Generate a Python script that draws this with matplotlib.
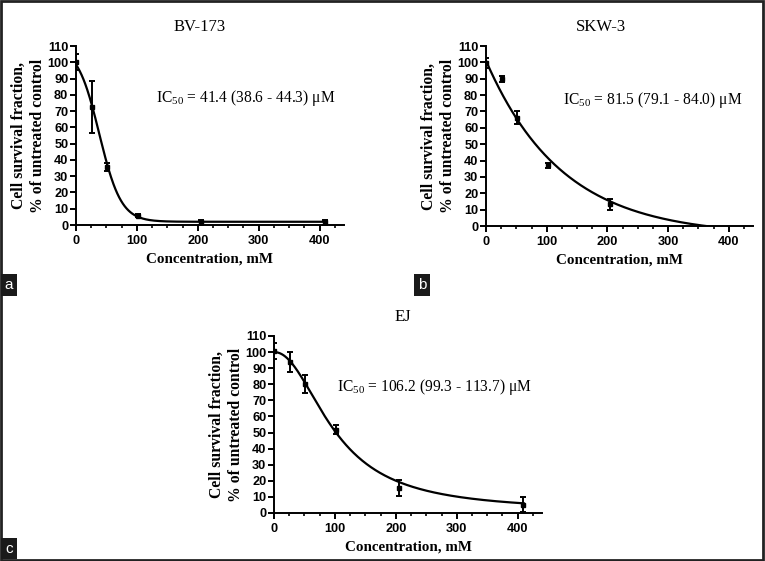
import numpy as np
import matplotlib
matplotlib.use('Agg')
import matplotlib.pyplot as plt
from matplotlib.ticker import MultipleLocator
from matplotlib.patches import Rectangle

plt.rcParams['mathtext.fontset'] = 'custom'
plt.rcParams['mathtext.rm'] = 'Liberation Serif'
plt.rcParams['mathtext.it'] = 'Liberation Serif:italic'

SERIF = 'Liberation Serif'
SANS = 'Liberation Sans'

#doses (same for the three cell lines)
conc = [0, 25.6, 51.2, 102.4, 204.8, 409.6]

#BV-173
bv_mean = [100, 72.7, 35.8, 5.7, 1.6, 1.6]
bv_err = [5, 16, 2.5, 1, 1.3, 1.3]
#SKW-3 (no point visible at 409.6)
skw_conc = [0, 25.6, 51.2, 102.4, 204.8]
skw_mean = [99.8, 89.8, 66.3, 37.1, 13.3]
skw_err = [3, 2, 3.7, 1.5, 3.4]
#EJ
ej_mean = [100.5, 93.9, 80.1, 51.6, 15.5, 5.2]
ej_err = [5, 6, 5.5, 2.8, 4.7, 4.5]

titles = ['BV-173', 'SKW-3', 'EJ']
ic50_texts = ['IC$_{50}$ = 41.4 (38.6 - 44.3) \u03bcM',
              'IC$_{50}$ = 81.5 (79.1 - 84.0) \u03bcM',
              'IC$_{50}$ = 106.2 (99.3 - 113.7) \u03bcM']

#fitted curves, parameters
def fit_bv(x):
    #sigmoid: top, bottom, mid, slope
    return 2 + (110 - 2) / (1 + np.exp((x - 38.3) / 17.9))

def fit_skw(x):
    #one phase decay: plateau, span, k
    return -6 + 107 * np.exp(-0.00795 * x)

def fit_ej(x):
    #hill: top, bottom, ec50, hill slope
    return 1 + (100 - 1) / (1 + (x / 100.7) ** 2.09)


def draw_panel(ax, x, y, err, fit, title, ic_text, ic_pos, title_x):
    xx = np.linspace(0, 410, 400)
    ax.plot(xx, fit(xx), color='black', lw=1.6)
    ax.errorbar(x, y, yerr=err, fmt='s', ms=3.5, color='black', ecolor='black',
                elinewidth=1.4, capsize=2.5, capthick=1.4)
    ax.set_xlim(0, 440)
    ax.set_ylim(0, 110)
    ax.spines['top'].set_visible(False)
    ax.spines['right'].set_visible(False)
    ax.spines['left'].set_linewidth(1.4)
    ax.spines['bottom'].set_linewidth(1.4)
    ax.yaxis.set_major_locator(MultipleLocator(10))
    ax.xaxis.set_major_locator(MultipleLocator(100))
    ax.xaxis.set_minor_locator(MultipleLocator(25))
    ax.tick_params(axis='both', which='major', length=4, width=1.4, pad=1.5)
    ax.tick_params(axis='x', which='major', pad=3)
    ax.tick_params(axis='x', which='minor', length=2.5, width=1.2)
    for lab in ax.get_xticklabels() + ax.get_yticklabels():
        lab.set_fontfamily(SANS)
        lab.set_fontweight('bold')
        lab.set_fontsize(9.2)
    ax.set_xlabel('Concentration, mM', fontfamily=SERIF, fontweight='bold', fontsize=10.8)
    ax.xaxis.set_label_coords(0.5, -0.155)
    ax.set_ylabel('Cell survival fraction,\n% of untreated control', fontfamily=SERIF,
                  fontweight='bold', fontsize=11.3, linespacing=1.25)
    ax.yaxis.set_label_coords(-0.113, 0.5)
    ax.text(ic_pos[0], ic_pos[1], ic_text, transform=ax.transAxes, fontfamily=SERIF,
            fontsize=11.2, ha='left', va='center')
    ax.set_title(title, fontfamily=SERIF, fontsize=12, x=title_x, pad=11)


fig = plt.figure(figsize=(7.65, 5.61), dpi=100)

ax_a = fig.add_axes([0.0993, 0.5989, 0.3503, 0.3191])
ax_b = fig.add_axes([0.6353, 0.5971, 0.3490, 0.3209])
ax_c = fig.add_axes([0.3582, 0.0856, 0.3503, 0.3155])

draw_panel(ax_a, conc, bv_mean, bv_err, fit_bv, titles[0], ic50_texts[0], (0.30, 0.71), 0.46)
draw_panel(ax_b, skw_conc, skw_mean, skw_err, fit_skw, titles[1], ic50_texts[1], (0.29, 0.70), 0.43)
draw_panel(ax_c, conc, ej_mean, ej_err, fit_ej, titles[2], ic50_texts[2], (0.235, 0.71), 0.48)
ax_b.title.set_y(1.03)

#panel letters
for lx, ly, letter in [(0.0118, 0.492, 'a'), (0.5516, 0.492, 'b'), (0.0118, 0.022, 'c')]:
    fig.text(lx, ly, letter, color='white', fontfamily=SANS, fontsize=11, ha='center',
             va='center', bbox=dict(facecolor='#1a1a1a', edgecolor='none', boxstyle='square,pad=0.25'))

#outer frame
fig.patches.append(Rectangle((0.001, 0.002), 0.997, 0.996, transform=fig.transFigure,
                             fill=False, edgecolor='#222222', lw=2))

fig.savefig('out.png', dpi=100)
